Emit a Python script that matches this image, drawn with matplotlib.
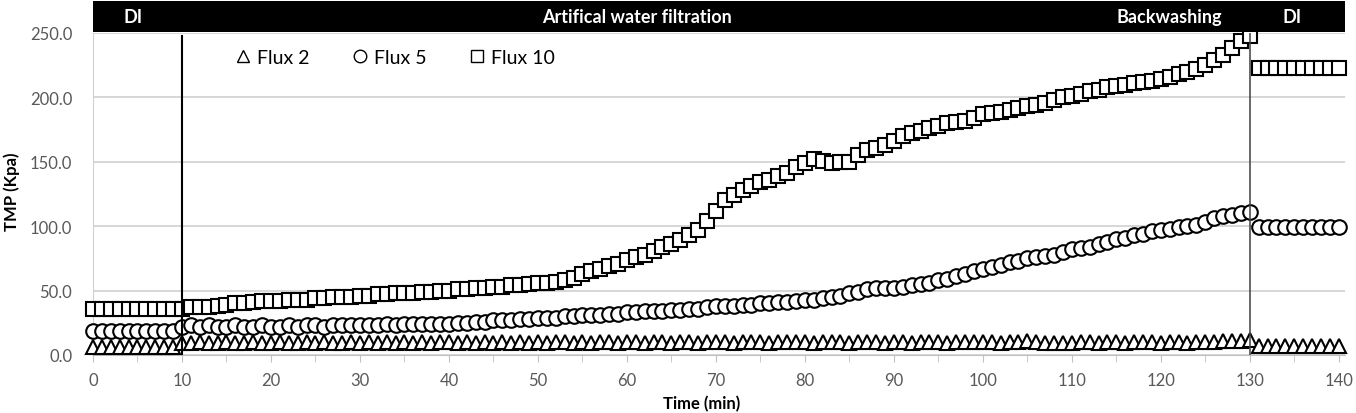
import numpy as np
import matplotlib
matplotlib.use("Agg")
import matplotlib.pyplot as plt
from matplotlib.ticker import MultipleLocator, FormatStrFormatter

plt.rcParams['font.family'] = ['Lato', 'DejaVu Sans']

# time (min): DI + filtration run, then DI after backwashing
t_run = np.arange(0, 131)
t_di = np.arange(131, 141)

flux2_run = [
    6, 6, 6, 6, 6, 6, 6, 6, 6, 6,
    9, 9, 10, 9, 9, 10, 9, 9, 10, 9,
    9, 10, 9, 9, 10, 9, 10, 9, 9, 10,
    9, 10, 9, 10, 9, 10, 9, 10, 9, 10,
    10, 9, 10, 9, 10, 9, 10, 9, 10, 9,
    10, 9, 10, 10, 9, 10, 9, 10, 10, 9,
    10, 10, 9, 10, 10, 9, 10, 10, 9, 10,
    10, 10, 9, 10, 10, 10, 9, 10, 10, 10,
    10, 9, 10, 10, 10, 9, 10, 10, 10, 9,
    10, 10, 9, 10, 10, 10, 9, 10, 10, 10,
    10, 10, 9, 10, 10, 11, 10, 9, 9, 9,
    9, 10, 10, 9, 10, 10, 9, 10, 10, 10,
    9, 10, 10, 9, 10, 10, 10, 11, 11, 11,
    12,
]
flux2_di = [7, 7, 7, 7, 7, 7, 7, 7, 7, 7]

flux5_run = [
    19, 19, 19, 19, 19, 19, 19, 19, 19, 19,
    22, 23, 22, 23, 22, 22, 23, 22, 22, 23,
    22, 22, 23, 22, 23, 23, 22, 23, 23, 23,
    23, 23, 23, 24, 23, 24, 24, 24, 24, 24,
    24, 25, 25, 26, 26, 27, 27, 27, 28, 28,
    29, 29, 29, 30, 30, 31, 31, 31, 32, 32,
    33, 33, 34, 34, 34, 35, 35, 36, 36, 37,
    38, 38, 38, 39, 39, 40, 40, 41, 41, 42,
    43, 43, 44, 45, 46, 48, 49, 51, 52, 52,
    52, 53, 54, 55, 56, 58, 59, 61, 63, 65,
    67, 68, 70, 72, 73, 75, 76, 77, 78, 80,
    82, 83, 84, 86, 88, 90, 91, 93, 94, 96,
    97, 98, 99, 100, 101, 103, 106, 108, 109, 110,
    111,
]
flux5_di = [99, 99, 99, 99, 99, 99, 99, 99, 99, 99]

flux10_run = [
    36, 36, 36, 36, 36, 36, 36, 36, 36, 36,
    36, 37, 37, 37, 38, 39, 40, 40, 41, 42,
    42, 42, 43, 43, 43, 44, 44, 45, 45, 45,
    46, 46, 47, 47, 48, 48, 48, 49, 49, 50,
    50, 51, 51, 52, 52, 53, 53, 54, 54, 55,
    56, 56, 57, 58, 60, 63, 65, 67, 69, 71,
    74, 76, 78, 81, 84, 86, 89, 93, 97, 104,
    112, 120, 124, 128, 131, 134, 136, 139, 141, 146,
    149, 152, 151, 149, 150, 150, 155, 159, 161, 163,
    166, 170, 172, 174, 176, 178, 180, 181, 182, 184,
    187, 188, 189, 190, 192, 193, 194, 196, 198, 200,
    201, 203, 205, 206, 208, 209, 210, 211, 212, 213,
    214, 216, 218, 220, 222, 225, 229, 233, 238, 244,
    248,
]
flux10_di = [223, 223, 223, 223, 223, 223, 223, 223, 223, 223]

series = [
    ("Flux 2", "^", flux2_run, flux2_di, 10.5),
    ("Flux 5", "o", flux5_run, flux5_di, 10.5),
    ("Flux 10", "s", flux10_run, flux10_di, 10),
]

phase_labels = ["DI", "Artifical water filtration", "Backwashing", "DI"]
phase_pos = [4.5, 61.1, 121.0, 134.8]

W, H = 1356, 414
fig = plt.figure(figsize=(W / 100, H / 100), dpi=100)
ax = fig.add_axes([93 / W, (H - 356) / H, 1252 / W, 322 / H])

for name, mk, run, di, ms in series:
    ax.plot(t_run, run, linestyle="none", marker=mk, markersize=ms,
            markerfacecolor="white", markeredgecolor="black",
            markeredgewidth=1.5, clip_on=False, label=name, zorder=3)
    ax.plot(t_di, di, linestyle="none", marker=mk, markersize=ms,
            markerfacecolor="white", markeredgecolor="black",
            markeredgewidth=1.5, clip_on=False, zorder=3)

ax.axvline(10, ymax=0.99, color="black", lw=1.5, zorder=4)
ax.axvline(130, color="#404040", lw=1.1, zorder=4)

ax.set_xlim(0, 140.7)
ax.set_ylim(0, 250)
ax.xaxis.set_major_locator(MultipleLocator(10))
ax.xaxis.set_minor_locator(MultipleLocator(5))
ax.yaxis.set_major_locator(MultipleLocator(50))
ax.yaxis.set_major_formatter(FormatStrFormatter("%.1f"))
ax.grid(axis="y", color="#d0d0d0", lw=1.2)
ax.set_axisbelow(True)
for s in ["top", "right"]:
    ax.spines[s].set_visible(False)
ax.spines["left"].set_color("#d0d0d0")
ax.spines["bottom"].set_color("#c0c0c0")
ax.tick_params(axis="x", which="both", direction="out", length=5,
               color="#c0c0c0", labelsize=12, labelcolor="#595959", pad=7)
ax.tick_params(axis="y", length=0, labelsize=12, labelcolor="#595959", pad=15)

leg = ax.legend(loc="center left", bbox_to_anchor=(0.1, 0.925), ncol=3,
                frameon=False, fontsize=14, handlelength=0.8,
                handletextpad=0.3, columnspacing=2.2)
for h in leg.legend_handles:
    h.set_markersize(9)
    h.set_markeredgewidth(1.0)

fig.text(12 / W, 1 - 192 / H, "TMP (Kpa)", rotation=90, fontsize=12,
         fontweight="bold", ha="center", va="center")
fig.text(702 / W, 1 - 404 / H, "Time (min)", fontsize=12,
         fontweight="bold", ha="center", va="center")

# black phase header
bar = fig.add_axes([93 / W, (H - 33) / H, 1252 / W, 31 / H])
bar.set_facecolor("black")
bar.set_xlim(0, 140.7)
bar.set_ylim(0, 1)
bar.set_xticks([])
bar.set_yticks([])
for s in bar.spines.values():
    s.set_visible(False)
for lab, xp in zip(phase_labels, phase_pos):
    bar.text(xp, 0.5, lab, color="white", fontsize=13, fontweight="bold",
             ha="center", va="center")

fig.savefig("out.png", dpi=100)
